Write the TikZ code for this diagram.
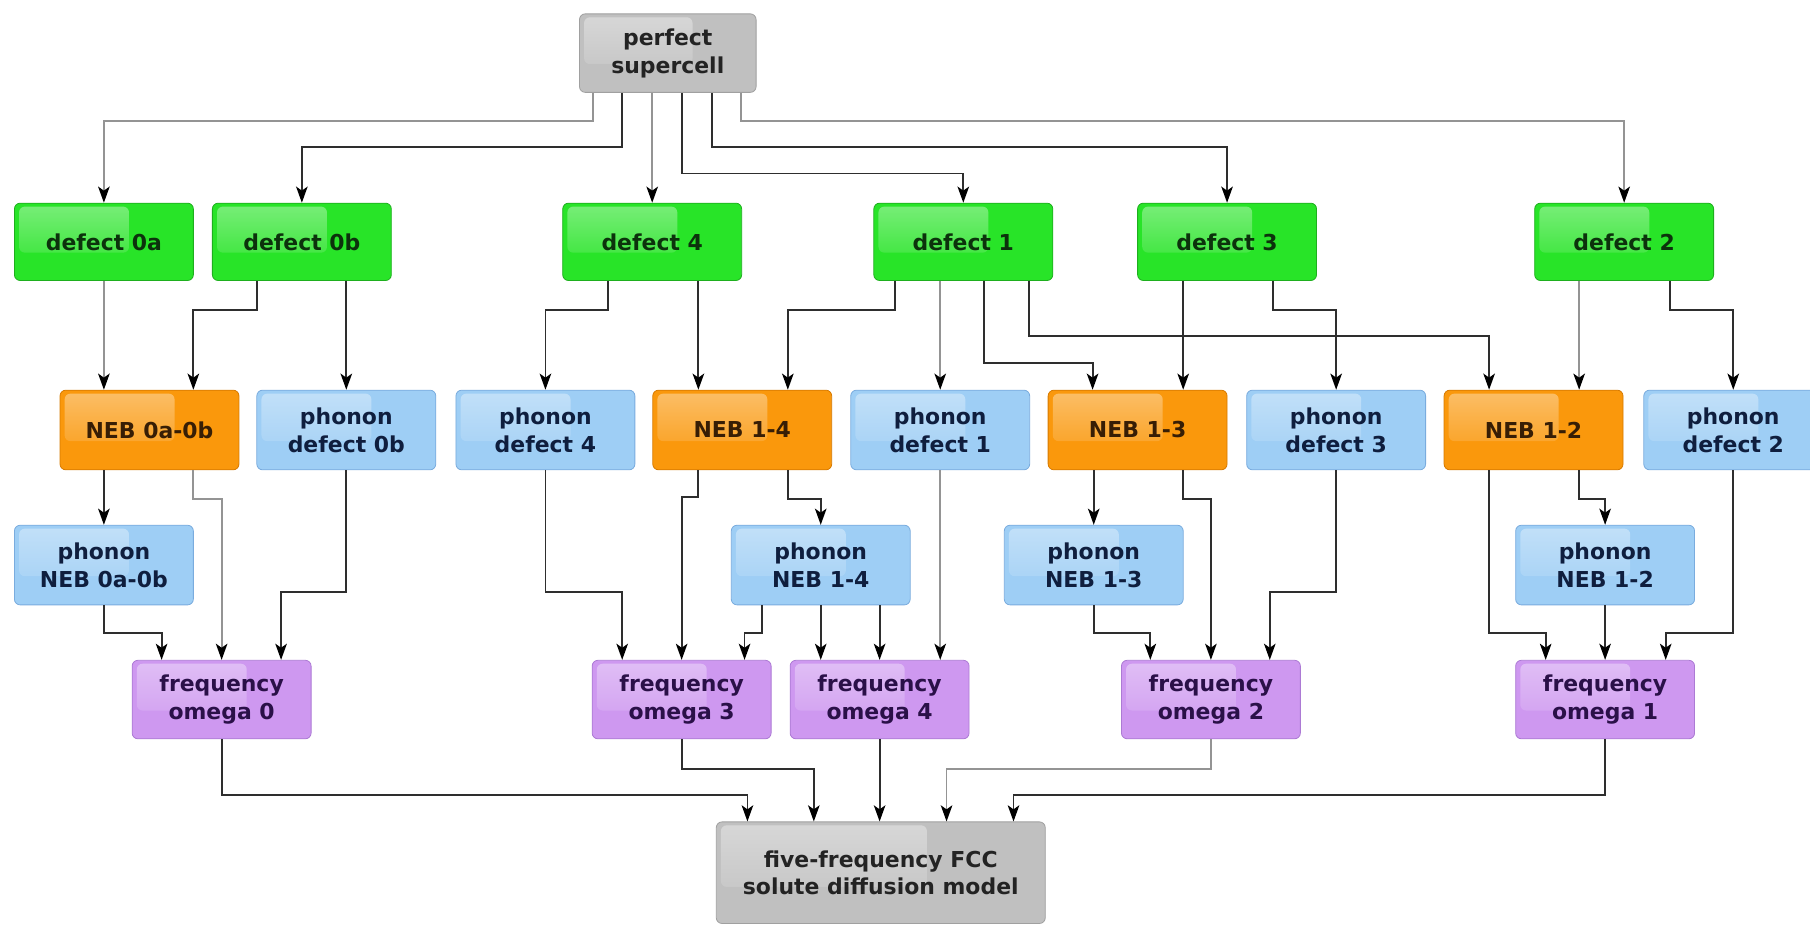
\documentclass[tikz,border=0pt]{standalone}
\usepackage{fontspec}
\newfontfamily\boxfont{DejaVu Sans}
\usetikzlibrary{arrows.meta,calc,fadings}

% box fills, borders and text colours
\definecolor{gfill}{RGB}{40,228,40}
\definecolor{gline}{RGB}{30,175,30}
\definecolor{gtext}{RGB}{12,50,12}
\definecolor{ofill}{RGB}{250,152,12}
\definecolor{oline}{RGB}{215,122,0}
\definecolor{otext}{RGB}{55,30,5}
\definecolor{bfill}{RGB}{158,206,245}
\definecolor{bline}{RGB}{122,172,222}
\definecolor{btext}{RGB}{15,30,62}
\definecolor{pfill}{RGB}{206,152,240}
\definecolor{pline}{RGB}{172,122,212}
\definecolor{ptext}{RGB}{42,16,72}
\definecolor{sfill}{RGB}{192,192,192}
\definecolor{sline}{RGB}{160,160,160}
\definecolor{stext}{RGB}{35,35,35}

\tikzset{
  box/.style={rounded corners=5pt, minimum width=155pt, minimum height=68pt,
    inner sep=0pt, align=center, line width=0.7pt,
    font={\boxfont\bfseries\fontsize{19}{24}\selectfont},
    path picture={
      \fill[white, fill opacity=0.38, path fading=south, rounded corners=5pt]
        ([xshift=4pt,yshift=-3pt]path picture bounding box.north west) rectangle
        ($(path picture bounding box.north west)!0.64!(path picture bounding box.south east)$);
    }},
  gbox/.style={box, fill=gfill, draw=gline, text=gtext},
  obox/.style={box, fill=ofill, draw=oline, text=otext},
  bbox/.style={box, fill=bfill, draw=bline, text=btext},
  pbox/.style={box, fill=pfill, draw=pline, text=ptext},
  sbox/.style={box, fill=sfill, draw=sline, text=stext},
  wire/.style={draw=black!82, line width=1.6pt,
    -{Stealth[length=14pt,width=10pt,inset=3.5pt,color=black]}},
  wirelt/.style={wire, draw=black!42},
}

\begin{document}
\begin{tikzpicture}[x=1pt,y=-1pt]
\useasboundingbox (0,0) rectangle (1568,803);
\fill[white] (0,0) rectangle (1568,803);
\clip (0,0) rectangle (1568,803);

% top
\node[sbox, minimum width=153pt] (sc) at (578.5,46) {perfect\\supercell};

% defects
\node[gbox, minimum height=67pt] (d0a) at (90,209.5)   {defect 0a};
\node[gbox, minimum height=67pt] (d0b) at (261.5,209.5) {defect 0b};
\node[gbox, minimum height=67pt] (d4)  at (565,209.5)  {defect 4};
\node[gbox, minimum height=67pt] (d1)  at (834.5,209.5) {defect 1};
\node[gbox, minimum height=67pt] (d3)  at (1063,209.5) {defect 3};
\node[gbox, minimum height=67pt] (d2)  at (1407,209.5) {defect 2};

% NEB runs and defect phonons
\node[obox, minimum height=69pt] (neb0)  at (129.5,372.5)  {NEB 0a-0b};
\node[bbox, minimum height=69pt] (pd0b)  at (300,372.5)    {phonon\\defect 0b};
\node[bbox, minimum height=69pt] (pd4)   at (472.5,372.5)  {phonon\\defect 4};
\node[obox, minimum height=69pt] (neb14) at (643,372.5)    {NEB 1-4};
\node[bbox, minimum height=69pt] (pd1)   at (814.5,372.5)  {phonon\\defect 1};
\node[obox, minimum height=69pt] (neb13) at (985.5,372.5)  {NEB 1-3};
\node[bbox, minimum height=69pt] (pd3)   at (1157.5,372.5) {phonon\\defect 3};
\node[obox, minimum height=69pt] (neb12) at (1328.5,372.5) {NEB 1-2};
\node[bbox, minimum height=69pt] (pd2)   at (1501.5,372.5) {phonon\\defect 2};

% NEB phonons
\node[bbox, minimum height=69pt] (pneb0)  at (90,489.5)     {phonon\\NEB 0a-0b};
\node[bbox, minimum height=69pt] (pneb14) at (711,489.5)    {phonon\\NEB 1-4};
\node[bbox, minimum height=69pt] (pneb13) at (947.5,489.5)  {phonon\\NEB 1-3};
\node[bbox, minimum height=69pt] (pneb12) at (1390.5,489.5) {phonon\\NEB 1-2};

% frequencies
\node[pbox] (om0) at (192,606)    {frequency\\omega 0};
\node[pbox] (om3) at (590.5,606)  {frequency\\omega 3};
\node[pbox] (om4) at (762,606)    {frequency\\omega 4};
\node[pbox] (om2) at (1049,606)   {frequency\\omega 2};
\node[pbox] (om1) at (1390.5,606) {frequency\\omega 1};

% model
\node[sbox, minimum width=285pt, minimum height=88pt] (fin) at (763,756)
  {five-frequency FCC\\solute diffusion model};

% supercell to defects
\draw[wirelt] ([xshift=-64.5pt]sc.south) -- ++(0,24.5) -| (d0a.north);
\draw[wire]   ([xshift=-39.5pt]sc.south) -- ++(0,47) -| (d0b.north);
\draw[wirelt] (sc.south -| d4.north) -- (d4.north);
\draw[wire]   ([xshift=12.5pt]sc.south) -- ++(0,70) -| (d1.north);
\draw[wire]   ([xshift=38.5pt]sc.south) -- ++(0,47) -| (d3.north);
\draw[wirelt] ([xshift=63.5pt]sc.south) -- ++(0,24.5) -| (d2.north);

% defects to NEB runs and phonons
\draw[wirelt] (d0a.south) -- (d0a.south |- neb0.north);
\draw[wire]   ([xshift=-39pt]d0b.south) -- ++(0,25) -| ([xshift=38pt]neb0.north);
\draw[wire]   (pd0b.north |- d0b.south) -- (pd0b.north);
\draw[wire]   ([xshift=-38.5pt]d4.south) -- ++(0,25) -| (pd4.north);
\draw[wire]   ([xshift=40pt]d4.south) -- ([xshift=40pt]d4.south |- neb14.north);
\draw[wire]   ([xshift=-59.5pt]d1.south) -- ++(0,25) -| ([xshift=39.5pt]neb14.north);
\draw[wirelt] (pd1.north |- d1.south) -- (pd1.north);
\draw[wire]   ([xshift=18pt]d1.south) -- ++(0,71.3) -| ([xshift=-39pt]neb13.north);
\draw[wire]   ([xshift=57pt]d1.south) -- ++(0,48) -| ([xshift=-38.5pt]neb12.north);
\draw[wire]   ([xshift=-38pt]d3.south) -- ([xshift=-38pt]d3.south |- neb13.north);
\draw[wire]   ([xshift=39.5pt]d3.south) -- ++(0,25) -| (pd3.north);
\draw[wirelt] ([xshift=-39pt]d2.south) -- ([xshift=-39pt]d2.south |- neb12.north);
\draw[wire]   ([xshift=39.5pt]d2.south) -- ++(0,25) -| (pd2.north);

% second level to frequencies
\draw[wire]   (neb0.south -| pneb0.north) -- (pneb0.north);
\draw[wirelt] ([xshift=38pt]neb0.south) -- ++(0,24.8) -| (om0.north);
\draw[wire]   (pd0b.south) -- ++(0,105.7) -| ([xshift=51.5pt]om0.north);
\draw[wire]   (pneb0.south) -- ++(0,24) -| ([xshift=-52pt]om0.north);
\draw[wire]   (pd4.south) -- ++(0,105.7) -| ([xshift=-51.5pt]om3.north);
\draw[wire]   ([xshift=-38pt]neb14.south) -- ++(0,23.4) -| (om3.north);
\draw[wire]   ([xshift=39.5pt]neb14.south) -- ++(0,24.8) -| (pneb14.north);
\draw[wire]   ([xshift=-51pt]pneb14.south) -- ++(0,24) -| ([xshift=54.5pt]om3.north);
\draw[wire]   (pneb14.south) -- (pneb14.south |- om4.north);
\draw[wire]   ([xshift=51pt]pneb14.south) -- ([xshift=51pt]pneb14.south |- om4.north);
\draw[wirelt] (pd1.south) -- (pd1.south |- om4.north);
\draw[wire]   (neb13.south -| pneb13.north) -- (pneb13.north);
\draw[wire]   ([xshift=39.5pt]neb13.south) -- ++(0,24.8) -| (om2.north);
\draw[wire]   (pd3.south) -- ++(0,105.7) -| ([xshift=51pt]om2.north);
\draw[wire]   (pneb13.south) -- ++(0,24) -| ([xshift=-52.5pt]om2.north);
\draw[wire]   ([xshift=-38.5pt]neb12.south) -- ++(0,141) -| ([xshift=-51.5pt]om1.north);
\draw[wire]   ([xshift=39.5pt]neb12.south) -- ++(0,24.8) -| (pneb12.north);
\draw[wire]   (pd2.south) -- ++(0,141) -| ([xshift=52.5pt]om1.north);
\draw[wire]   (pneb12.south) -- (om1.north);

% frequencies to the model
\draw[wire]   (om0.south) -- ++(0,48.7) -| ([xshift=-115.5pt]fin.north);
\draw[wire]   (om3.south) -- ++(0,25.6) -| ([xshift=-58pt]fin.north);
\draw[wire]   (om4.south) -- (om4.south |- fin.north);
\draw[wirelt] (om2.south) -- ++(0,25.6) -| ([xshift=57pt]fin.north);
\draw[wire]   (om1.south) -- ++(0,48.7) -| ([xshift=115pt]fin.north);
\end{tikzpicture}
\end{document}
